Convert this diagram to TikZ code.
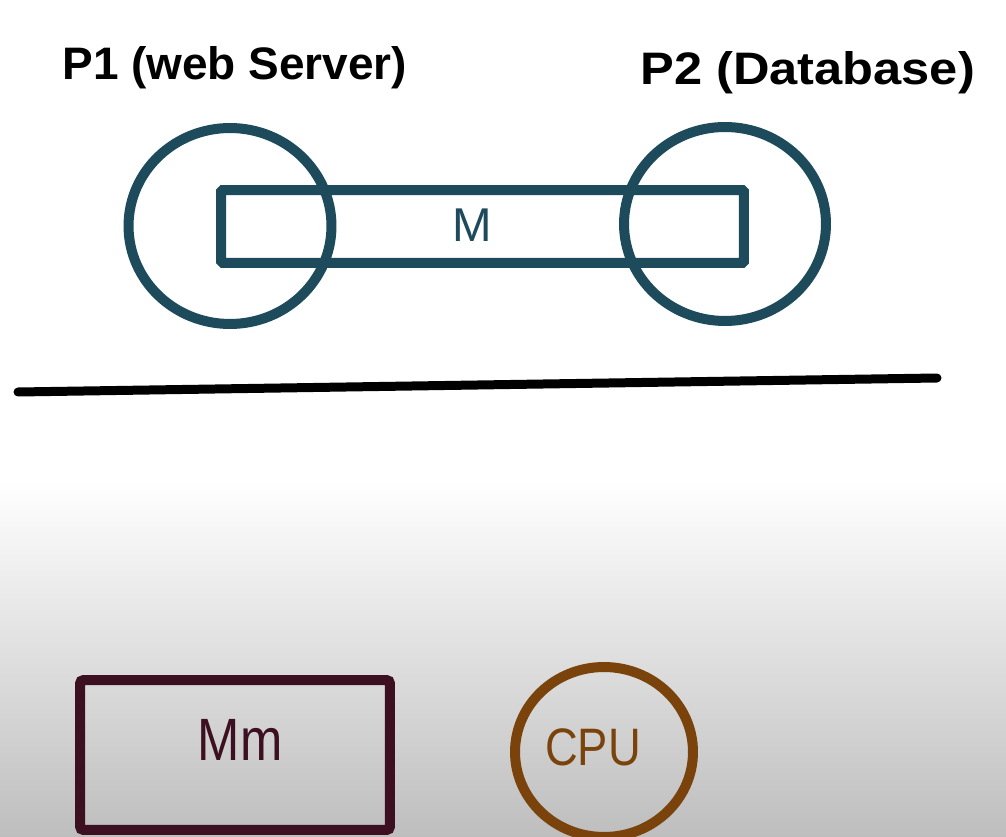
\documentclass[tikz,border=0pt]{standalone}
\usepackage{fontspec}
\setmainfont{Liberation Sans}
\usetikzlibrary{shapes.geometric}
\definecolor{tealink}{HTML}{1D4B5C}
\definecolor{maroonink}{HTML}{3C1020}
\definecolor{brownink}{HTML}{7A430C}
\definecolor{bgbottom}{RGB}{190,190,190}
\begin{document}
\begin{tikzpicture}[x=0.02cm,y=-0.02cm,
  thick stroke/.style={line width=0.2cm},
  tealshape/.style={draw=tealink,thick stroke,inner sep=0pt,outer sep=0pt},
  handtext/.style={inner sep=0pt,anchor=base},
]
\useasboundingbox (0,0) rectangle (1006,837);
% background
\fill[white] (0,0) rectangle (1006,481);
\shade[top color=white,bottom color=bgbottom] (0,480) rectangle (1006,837);

% labels
\node[handtext,text=black,anchor=base west] (p1) at (62,80)
  {\scalebox{1.09}[1.08]{\fontsize{24pt}{28pt}\selectfont\bfseries P1 (web Server)}};
\node[handtext,text=black,anchor=base west] (p2) at (640,85)
  {\scalebox{1.2}[1.08]{\fontsize{24pt}{28pt}\selectfont\bfseries P2 (Database)}};

% processes and shared memory
\node[tealshape,ellipse,minimum width=4.06cm,minimum height=3.92cm] (c1) at (230,226) {};
\node[tealshape,ellipse,minimum width=4.04cm,minimum height=3.88cm] (c2) at (725,224) {};
\node[tealshape,rectangle,rounded corners=1pt,minimum width=10.46cm,minimum height=1.46cm] (mem) at (482.5,226.5) {};
\node[handtext,text=tealink] (mlabel) at (472,242) {\fontsize{27pt}{30pt}\selectfont M};

% separating line
\coordinate (la) at (18,392);
\coordinate (lb) at (937,378);
\draw[black,line width=0.18cm,line cap=round] (la) -- (lb);

% main memory and cpu
\node[draw=maroonink,thick stroke,rectangle,rounded corners=2pt,inner sep=0pt,
  minimum width=6.2cm,minimum height=3.0cm] (mm) at (235,755) {};
\node[handtext,text=maroonink] (mmlabel) at (240,760)
  {\scalebox{0.85}[1]{\fontsize{34pt}{38pt}\selectfont Mm}};
\node[draw=brownink,thick stroke,ellipse,inner sep=0pt,
  minimum width=3.56cm,minimum height=3.4cm] (cpu) at (604,752) {};
\node[handtext,text=brownink] (cpulabel) at (593,765)
  {\scalebox{0.86}[1]{\fontsize{30pt}{34pt}\selectfont CPU}};
\end{tikzpicture}
\end{document}
